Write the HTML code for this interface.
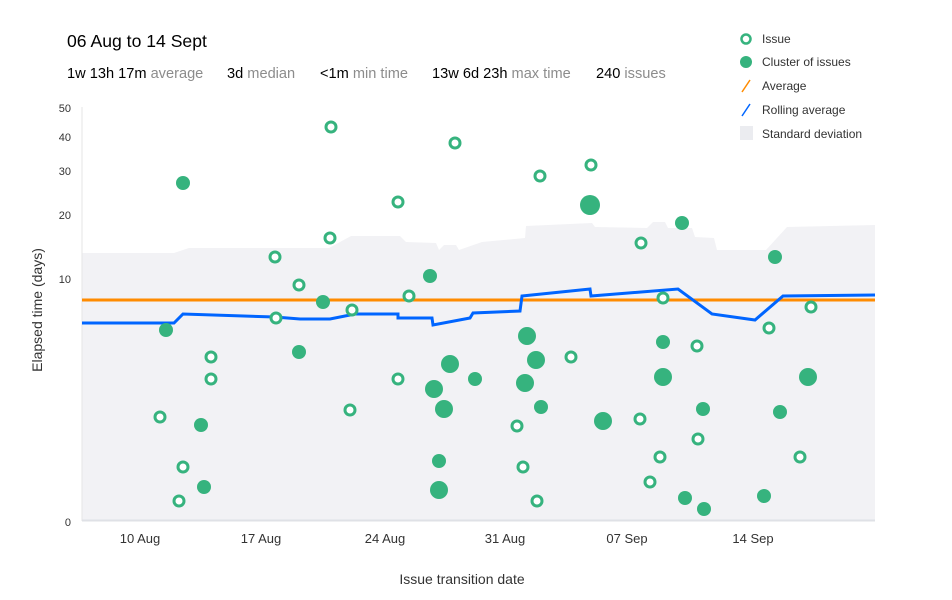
<!DOCTYPE html>
<html><head><meta charset="utf-8"><style>
body{margin:0;background:#fff;font-family:"Liberation Sans",Arial,sans-serif;}
</style></head><body>
<svg width="952" height="595" xmlns="http://www.w3.org/2000/svg" font-family="Liberation Sans, Arial, sans-serif">
<text x="67" y="47" font-size="17.6" fill="#000">06 Aug to 14 Sept</text>
<text x="67" y="78" font-size="14.6" fill="#000">1w 13h 17m <tspan fill="#8c8c8c">average</tspan></text>
<text x="227" y="78" font-size="14.6" fill="#000">3d <tspan fill="#8c8c8c">median</tspan></text>
<text x="320" y="78" font-size="14.6" fill="#000">&lt;1m <tspan fill="#8c8c8c">min time</tspan></text>
<text x="432" y="78" font-size="14.6" fill="#000">13w 6d 23h <tspan fill="#8c8c8c">max time</tspan></text>
<text x="596" y="78" font-size="14.6" fill="#000">240 <tspan fill="#8c8c8c">issues</tspan></text>

<circle cx="746" cy="39" r="4.5" fill="#fff" stroke="#36b37e" stroke-width="2.5"/>
<text x="762" y="43" font-size="12" fill="#333">Issue</text>
<circle cx="746" cy="62" r="6" fill="#36b37e"/>
<text x="762" y="66" font-size="12" fill="#333">Cluster of issues</text>
<line x1="742" y1="92" x2="750" y2="80" stroke="#ff8b00" stroke-width="1.5"/>
<text x="762" y="90" font-size="12" fill="#333">Average</text>
<line x1="742" y1="116" x2="750" y2="104" stroke="#0065ff" stroke-width="1.5"/>
<text x="762" y="114" font-size="12" fill="#333">Rolling average</text>
<rect x="740" y="126" width="13" height="14" fill="#ebecf0"/>
<text x="762" y="138" font-size="12" fill="#333">Standard deviation</text>

<polygon fill="#f2f2f5" points="82,253 174,253 189,248 329,248 351,236 400,236 406,242 436,243 439,250 444,245 456,245 459,250 482,242 525,238 526,226 592,223 595,227 647,228 653,222 665,222 668,228 692,228 695,237 714,238 717,250 766,250 787,227 875,225 875,520 82,520"/>
<line x1="82" y1="107" x2="82" y2="521" stroke="#e6e6e6" stroke-width="1"/>
<line x1="82" y1="520.5" x2="875" y2="520.5" stroke="#dfe1e6" stroke-width="2"/>

<g font-size="11" fill="#333" text-anchor="end">
<text x="71" y="112">50</text><text x="71" y="141">40</text><text x="71" y="175">30</text>
<text x="71" y="219">20</text><text x="71" y="283">10</text><text x="71" y="526">0</text>
</g>
<g font-size="13" fill="#333" text-anchor="middle">
<text x="140" y="543">10 Aug</text><text x="261" y="543">17 Aug</text><text x="385" y="543">24 Aug</text>
<text x="505" y="543">31 Aug</text><text x="627" y="543">07 Sep</text><text x="753" y="543">14 Sep</text>
<text x="462" y="584" font-size="14">Issue transition date</text>
</g>
<text transform="translate(42,310) rotate(-90)" font-size="14" fill="#333" text-anchor="middle">Elapsed time (days)</text>

<line x1="82" y1="300" x2="875" y2="300" stroke="#ff8b00" stroke-width="3"/>
<polyline fill="none" stroke="#0065ff" stroke-width="3" points="82,323 174,323 183,314 275,317 300,319 330,319 355,314 398,314 398,318 432,318 433,325 470,318 473,313 520,311 522,296 590,289 591,296 678,289 712,314 755,320 783,296 875,295"/>

<g fill="#36b37e">
<circle cx="183" cy="183" r="7"/><circle cx="682" cy="223" r="7"/><circle cx="775" cy="257" r="7"/>
<circle cx="430" cy="276" r="7"/><circle cx="323" cy="302" r="7"/><circle cx="166" cy="330" r="7"/>
<circle cx="299" cy="352" r="7"/><circle cx="663" cy="342" r="7"/><circle cx="475" cy="379" r="7"/>
<circle cx="541" cy="407" r="7"/><circle cx="201" cy="425" r="7"/><circle cx="780" cy="412" r="7"/>
<circle cx="703" cy="409" r="7"/><circle cx="439" cy="461" r="7"/><circle cx="204" cy="487" r="7"/>
<circle cx="685" cy="498" r="7"/><circle cx="704" cy="509" r="7"/><circle cx="764" cy="496" r="7"/>
<circle cx="590" cy="205" r="10"/><circle cx="527" cy="336" r="9"/><circle cx="536" cy="360" r="9"/>
<circle cx="450" cy="364" r="9"/><circle cx="525" cy="383" r="9"/><circle cx="663" cy="377" r="9"/>
<circle cx="808" cy="377" r="9"/><circle cx="434" cy="389" r="9"/><circle cx="444" cy="409" r="9"/>
<circle cx="603" cy="421" r="9"/><circle cx="439" cy="490" r="9"/>
</g>
<g fill="#fff" stroke="#36b37e" stroke-width="3">
<circle cx="331" cy="127" r="5"/><circle cx="455" cy="143" r="5"/><circle cx="540" cy="176" r="5"/>
<circle cx="591" cy="165" r="5"/><circle cx="398" cy="202" r="5"/><circle cx="330" cy="238" r="5"/>
<circle cx="641" cy="243" r="5"/><circle cx="275" cy="257" r="5"/><circle cx="299" cy="285" r="5"/>
<circle cx="409" cy="296" r="5"/><circle cx="663" cy="298" r="5"/><circle cx="276" cy="318" r="5"/>
<circle cx="352" cy="310" r="5"/><circle cx="811" cy="307" r="5"/><circle cx="769" cy="328" r="5"/>
<circle cx="211" cy="357" r="5"/><circle cx="697" cy="346" r="5"/><circle cx="571" cy="357" r="5"/>
<circle cx="211" cy="379" r="5"/><circle cx="398" cy="379" r="5"/><circle cx="160" cy="417" r="5"/>
<circle cx="350" cy="410" r="5"/><circle cx="640" cy="419" r="5"/><circle cx="517" cy="426" r="5"/>
<circle cx="698" cy="439" r="5"/><circle cx="660" cy="457" r="5"/><circle cx="800" cy="457" r="5"/>
<circle cx="183" cy="467" r="5"/><circle cx="523" cy="467" r="5"/><circle cx="650" cy="482" r="5"/>
<circle cx="179" cy="501" r="5"/><circle cx="537" cy="501" r="5"/>
</g>
</svg>
</body></html>
